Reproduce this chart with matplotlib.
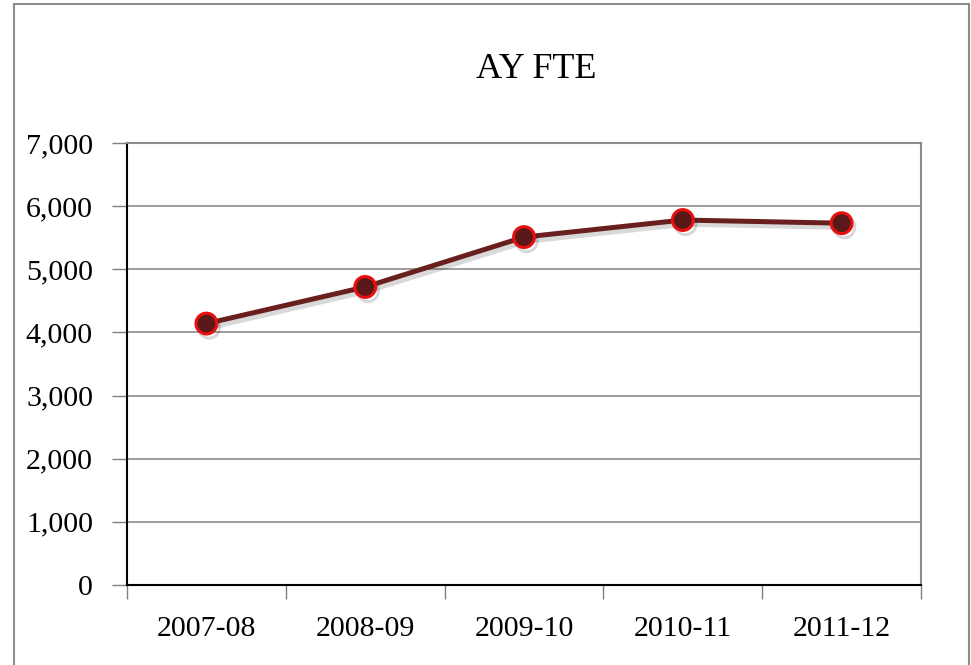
import numpy as np
import matplotlib.pyplot as plt
import matplotlib.patheffects as pe
from matplotlib.patches import Rectangle
from matplotlib.ticker import FuncFormatter, FixedLocator

years = ['2007-08', '2008-09', '2009-10', '2010-11', '2011-12']
fte = [4140, 4720, 5510, 5780, 5730]

plt.rcParams['font.family'] = ['Liberation Serif', 'DejaVu Serif']

fig = plt.figure(figsize=(9.71, 6.65), dpi=100)
# outer chart border
fig.patches.append(Rectangle((14 / 971, -0.01), 955 / 971, 1 - 4 / 665 + 0.01,
                             transform=fig.transFigure, fill=False,
                             edgecolor='#8c8c8c', linewidth=1.5))

ax = fig.add_axes([127 / 971, 80 / 665, 794 / 971, 442 / 665])
x = np.arange(len(years))
ax.plot(x, fte, color='#6a1f1f', linewidth=3.6, marker='o', markersize=15,
        markerfacecolor='#5a1818', markeredgecolor='#e8100f', markeredgewidth=2.2,
        path_effects=[pe.SimpleLineShadow(offset=(2, -3), shadow_color='#000000', alpha=0.15),
                      pe.Normal()], zorder=3)

ax.set_xlim(-0.5, len(years) - 0.5)
ax.set_ylim(0, 7000)
ax.set_yticks(np.arange(0, 7001, 1000))
ax.yaxis.set_major_formatter(FuncFormatter(lambda v, p: f'{int(v):,}'))
ax.yaxis.grid(True, color='#8c8c8c', linewidth=1.2)
ax.set_axisbelow(True)

ax.set_xticks(x)
ax.set_xticklabels(years)
ax.xaxis.set_minor_locator(FixedLocator(np.arange(-0.5, len(years), 1.0)))
ax.tick_params(axis='x', which='major', length=0, pad=22, labelsize=21.5)
ax.tick_params(axis='x', which='minor', length=10, width=1, color='#7f7f7f')
ax.tick_params(axis='y', length=11, width=1, color='#7f7f7f', pad=13.5, labelsize=21.5)

for s in ['top', 'right']:
    ax.spines[s].set_color('#8c8c8c')
    ax.spines[s].set_linewidth(1.5)
for s in ['left', 'bottom']:
    ax.spines[s].set_color('#000000')
    ax.spines[s].set_linewidth(1.5)

fig.text(536 / 971, 1 - 69 / 665, 'AY FTE', ha='center', va='center', fontsize=26)

fig.savefig('out.png', dpi=100)
